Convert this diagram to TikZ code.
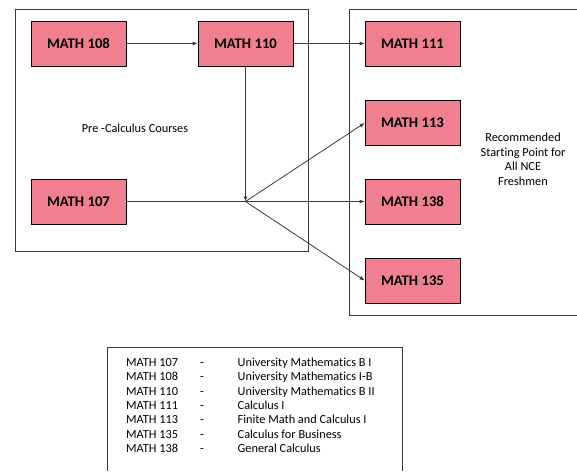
\documentclass[tikz,border=0pt]{standalone}
\usepackage{fontspec}
\setmainfont[Ligatures={NoCommon}]{Carlito}
\usetikzlibrary{arrows.meta}
\definecolor{boxpink}{HTML}{F0808F}
\definecolor{linegray}{HTML}{3A3A3A}
\tikzset{
  course/.style={draw=black, line width=0.8pt, fill=boxpink, minimum width=95pt, minimum height=45pt,
    inner sep=0pt, font=\bfseries\fontsize{14.7}{16}\selectfont},
  frame/.style={draw=linegray, line width=0.8pt},
  conn/.style={draw=linegray, line width=0.8pt},
  arr/.style={conn, -{Latex[length=5pt,width=4pt]}},
  small/.style={font=\fontsize{12.3}{14.5}\selectfont, inner sep=0pt},
}
\begin{document}
\begin{tikzpicture}[x=1pt,y=-1pt]
\useasboundingbox (0,0) rectangle (577,471);
% frames
\draw[frame] (15,9) rectangle (308,251);
\draw[frame] (577,9) -- (349,9) -- (349,315) -- (577,315);
\draw[frame] (107,471) -- (107,347) -- (402,347) -- (402,471);
% courses
\node[course] (m108) at (78.5,43.5) {MATH 108};
\node[course] (m110) at (245.5,43.5) {MATH 110};
\node[course] (m107) at (78.5,201.5) {MATH 107};
\node[course] (m111) at (412.5,43.5) {MATH 111};
\node[course] (m113) at (412.5,123) {MATH 113};
\node[course] (m138) at (412.5,201.5) {MATH 138};
\node[course] (m135) at (412.5,280.5) {MATH 135};
\coordinate (J) at (245.5,201.5);
% labels
\node[small] (pre) at (135,128) {Pre -Calculus Courses};
\node[small, align=center] (rec) at (523,159.5) {Recommended\\Starting Point for\\All NCE\\Freshmen};
% connectors
\draw[arr] (m108) -- (m110);
\draw[arr] (m110) -- (m111);
\draw[arr] (m110.south) -- (J);
\draw[conn] (m107.east) -- (J);
\draw[arr] (J) -- (m138.west);
\draw[arr] (J) -- (m113.west);
\draw[arr] (J) -- (m135.west);
% legend
\foreach [count=\i] \code/\desc in {MATH 107/University Mathematics B I, MATH 108/University Mathematics I-B, MATH 110/University Mathematics B II, MATH 111/Calculus I, MATH 113/Finite Math and Calculus I, MATH 135/Calculus for Business, MATH 138/General Calculus}{
  \pgfmathsetmacro{\yy}{366.5+14.3*(\i-1)}
  \node[small, anchor=base west] (code\i) at (126,\yy) {\code};
  \node[small, anchor=base] (dash\i) at (202,\yy) {-};
  \node[small, anchor=base west] (desc\i) at (237.5,\yy) {\desc};
}
\end{tikzpicture}
\end{document}
